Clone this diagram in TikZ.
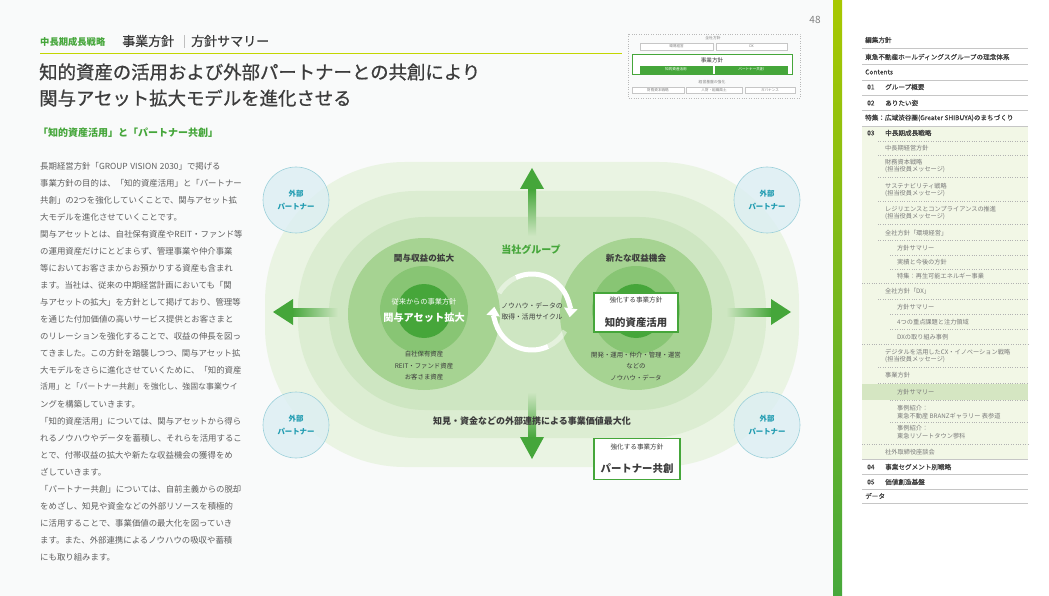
\documentclass[tikz,border=0pt]{standalone}
\usepackage{fontspec}
\setmainfont{Noto Sans CJK JP}
\newfontfamily\mediumfont{Noto Sans CJK JP}[FakeBold=0.8]
\newfontfamily\navfont{Noto Sans CJK JP}[FakeBold=0.25]
\usetikzlibrary{arrows.meta,positioning}

\XeTeXlinebreaklocale "ja"
\XeTeXlinebreakskip=0pt plus 1pt minus 1pt

\newcommand{\textsz}[2]{\fontsize{#1}{#2}\selectfont}

\definecolor{leaf}{HTML}{45A63A}
\definecolor{limeline}{HTML}{C3D600}
\definecolor{ink}{HTML}{3C3C3C}
\definecolor{bodygray}{HTML}{5E5E5E}
\definecolor{navgray}{HTML}{7A7A7A}
\definecolor{partnerteal}{HTML}{1F9BB0}
\definecolor{partnerfill}{HTML}{DCEEF3}
\definecolor{partnerline}{HTML}{9CD0DA}
\definecolor{bandA}{HTML}{EAF4E3}
\definecolor{bandB}{HTML}{DCEDD2}
\definecolor{bandC}{HTML}{CEE6C2}
\definecolor{ringA}{HTML}{A6D392}
\definecolor{ringB}{HTML}{88C574}
\definecolor{ringC}{HTML}{46A63A}
\definecolor{navbg}{HTML}{F2F7E6}
\definecolor{navhl}{HTML}{D5E6C2}
\definecolor{barTop}{HTML}{A8C800}
\definecolor{barBot}{HTML}{47A83C}
\definecolor{paper}{HTML}{F9FAFA}

\begin{document}
\begin{tikzpicture}[x=1pt, y=-1pt,
  bodyline/.style={anchor=west, inner sep=0, font=\textsz{8.4}{10}, text=bodygray},
  partner/.style={circle, minimum size=66pt, inner sep=0, fill=partnerfill, fill opacity=0.8, text opacity=1, draw=partnerline, line width=0.6pt, text=partnerteal, font=\bfseries\textsz{7.4}{12.5}, align=center},
  ringhead/.style={font=\bfseries\textsz{8.6}{10}, text=ink},
  ringnote/.style={font=\textsz{6.4}{11.5}, text=ink, align=center},
  policybox/.style={draw=leaf, line width=1.6pt, fill=white, minimum width=84pt, minimum height=39pt, inner sep=0},
  boxsmall/.style={font=\textsz{6.6}{8}, text=ink, inner sep=0},
  boxbig/.style={font=\bfseries\textsz{10.4}{12}, text=ink, inner sep=0},
  cyclearc/.style={white, line width=5pt},
  minibox/.style={draw=gray!45, fill=white, line width=0.3pt, font=\textsz{3.6}{4}, text=gray, inner sep=0},
  navtop/.style={anchor=west, inner sep=0, font=\navfont\textsz{6.6}{8}, text=ink},
  navsub/.style={anchor=west, inner sep=0, font=\textsz{6.2}{7.6}, text=navgray, align=left},
  navrule/.style={gray!45, line width=0.6pt},
  navdot/.style={gray!60, line width=0.4pt, dotted}]

  \useasboundingbox (0,0) rectangle (1049,596);
  \fill[white] (0,0) rectangle (1049,596);
  \fill[paper] (0,0) rectangle (833,596);

  % page header
  \node[anchor=west, inner sep=0, font=\bfseries\textsz{9.3}{11}, text=leaf] (section) at (40,42) {中長期成長戦略};
  \node[anchor=west, inner sep=0, font=\mediumfont\textsz{13}{15}, text=ink] (chapter) at (122,41) {事業方針};
  \draw[gray!50, line width=0.5pt] (184,35) -- (184,48);
  \node[anchor=west, inner sep=0, font=\mediumfont\textsz{13}{15}, text=ink] (page) at (191,41) {方針サマリー};
  \draw[limeline, line width=0.9pt] (40,53) -- (622,53);
  \node[font=\textsz{10}{12}, text=gray] (pageNo) at (815,20) {48};

  % title and lead
  \node[anchor=west, inner sep=0, font=\mediumfont\textsz{18.4}{22}, text=ink] (title1) at (39,72) {知的資産の活用および外部パートナーとの共創により};
  \node[anchor=west, inner sep=0, font=\mediumfont\textsz{18.4}{22}, text=ink] (title2) at (39,98) {関与アセット拡大モデルを進化させる};
  \node[anchor=west, inner sep=0, font=\bfseries\textsz{10}{12}, text=leaf] (lead) at (38,133) {「知的資産活用」と「パートナー共創」};

  % body text, justified lines
  \foreach \i/\t in {1/長期経営方針「GROUP\hspace{2.6pt}VISION\hspace{2.6pt}2030」で掲げる,
                     2/事業方針の目的は、「知的資産活用」と「パートナー,
                     3/共創」の2つを強化していくことで、関与アセット拡,
                     5/関与アセットとは、自社保有資産やREIT・ファンド等,
                     6/の運用資産だけにとどまらず、管理事業や仲介事業,
                     7/等においてお客さまからお預かりする資産も含まれ,
                     8/ます。当社は、従来の中期経営計画においても「関,
                     9/与アセットの拡大」を方針として掲げており、管理等,
                     10/を通じた付加価値の高いサービス提供とお客さまと,
                     11/のリレーションを強化することで、収益の伸長を図っ,
                     12/てきました。この方針を踏襲しつつ、関与アセット拡,
                     13/大モデルをさらに進化させていくために、「知的資産,
                     14/\textsz{7.9}{10}活用」と「パートナー共創」を強化し、強固な事業ウイ,
                     16/「知的資産活用」については、関与アセットから得ら,
                     17/れるノウハウやデータを蓄積し、それらを活用するこ,
                     18/とで、付帯収益の拡大や新たな収益機会の獲得をめ,
                     20/「パートナー共創」については、自前主義からの脱却,
                     21/をめざし、知見や資金などの外部リソースを積極的,
                     22/に活用することで、事業価値の最大化を図っていき,
                     23/ます。また、外部連携によるノウハウの吸収や蓄積}
    \node[bodyline] (body\i) at (40,{166+17*(\i-1)}) {\makebox[198pt][s]{\t}};
  % last lines of the paragraphs
  \foreach \i/\t in {4/大モデルを進化させていくことです。,
                     15/ングを構築していきます。,
                     19/ざしていきます。,
                     24/にも取り組みます。}
    \node[bodyline] (body\i) at (40,{166+17*(\i-1)}) {\t};

  % small map of the policies
  \draw[gray!55, line width=0.4pt, dotted] (628,34) rectangle (800,98);
  \node[font=\textsz{3.8}{4}, text=gray] (mAll) at (713,38) {全社方針};
  \node[minibox, minimum width=73pt, minimum height=7pt] (mEnv) at (676.5,46.5) {環境経営};
  \node[minibox, minimum width=71pt, minimum height=7pt] (mDX) at (751.5,46.5) {DX};
  \node[draw=leaf, line width=1pt, fill=white, minimum width=160pt, minimum height=20pt, inner sep=0] (mBiz) at (712,65) {};
  \node[font=\textsz{5.6}{6}, text=ink] (mBizLabel) at (712,60) {事業方針};
  \node[minibox, fill=leaf, draw=leaf, text=white, minimum width=72pt, minimum height=7pt] (mIP) at (676,69.5) {知的資産活用};
  \node[minibox, fill=leaf, draw=leaf, text=white, minimum width=72pt, minimum height=7pt] (mPC) at (751,69.5) {パートナー共創};
  \node[font=\textsz{3.8}{4}, text=gray] (mBase) at (712,82) {経営基盤の強化};
  \node[minibox, minimum width=52pt, minimum height=6pt] (mFin) at (658,90) {財務資本戦略};
  \node[minibox, minimum width=56pt, minimum height=6pt] (mHR) at (714,90) {人財・組織風土};
  \node[minibox, minimum width=50pt, minimum height=6pt] (mGov) at (770,90) {ガバナンス};

  % bands of the group
  \fill[bandA, rounded corners=140pt] (265,162) rectangle (799,467);
  \fill[bandB, rounded corners=118pt] (298,191) rectangle (766,438);
  \fill[bandC, rounded corners=96pt] (329,217) rectangle (735,410);

  % the two circles
  \foreach \cx/\nm in {424/Old, 636/New} {
    \node[circle, fill=ringA, minimum size=152pt, inner sep=0] (outer\nm) at (\cx,314) {};
    \node[circle, fill=ringB, minimum size=88pt, inner sep=0] (mid\nm) at (\cx,310) {};
    \node[circle, fill=ringC, minimum size=54pt, inner sep=0] (core\nm) at (\cx,311) {};
  }

  % arrows out of the group
  \shade[top color=leaf, bottom color=bandC] (528,236) rectangle (536,189);
  \fill[leaf] (520,189) -- (532,168) -- (544,189) -- cycle;
  \shade[top color=bandC, bottom color=leaf] (528,392) rectangle (536,438);
  \fill[leaf] (520,437) -- (532,459) -- (544,437) -- cycle;
  \shade[left color=leaf, right color=bandC] (292,308) rectangle (338,316);
  \fill[leaf] (293,299) -- (273,312) -- (293,325) -- cycle;
  \shade[left color=bandC, right color=leaf] (726,308) rectangle (772,316);
  \fill[leaf] (771,299) -- (791,312) -- (771,325) -- cycle;

  % knowhow cycle
  \node[circle, minimum size=76pt, inner sep=0, outer sep=0] (cycRing) at (532,312) {};
  \draw[cyclearc, opacity=0.45] (cycRing.150) arc[start angle=150, end angle=115, radius=38pt];
  \draw[cyclearc, -{Triangle[width=13pt,length=9pt]}] (cycRing.115) arc[start angle=115, end angle=-8, radius=38pt];
  \draw[cyclearc, opacity=0.45] (cycRing.-30) arc[start angle=-30, end angle=-65, radius=38pt];
  \draw[cyclearc, -{Triangle[width=13pt,length=9pt]}] (cycRing.-65) arc[start angle=-65, end angle=-188, radius=38pt];
  \node[font=\textsz{6.8}{11}, text=ink, align=center] (cycText) at (532,311) {ノウハウ・データの\\取得・活用サイクル};

  % labels in the group
  \node[font=\bfseries\textsz{10}{12}, text=leaf] (group) at (531,250) {当社グループ};
  \node[ringhead] (oldHead) at (424,258) {関与収益の拡大};
  \node[ringhead] (newHead) at (636,258) {新たな収益機会};
  \node[font=\textsz{7.2}{9}, text=white] (oldSub) at (424,302) {従来からの事業方針};
  \node[font=\bfseries\textsz{10.2}{12}, text=white] (oldPolicy) at (424,318) {関与アセット拡大};
  \node[ringnote] (oldAssets) at (424,366) {自社保有資産\\REIT・ファンド資産\\お客さま資産};
  \node[policybox] (ipBox) at (636,312.5) {};
  \node[boxsmall, below=5pt of ipBox.north] (ipSub) {強化する事業方針};
  \node[boxbig, above=5pt of ipBox.south] (ipName) {知的資産活用};
  \node[ringnote] (newData) at (636,366) {開発・運用・仲介・管理・運営\\などの\\ノウハウ・データ};
  \node[font=\bfseries\textsz{9}{11}, text=ink] (valueText) at (532,421) {知見・資金などの外部連携による事業価値最大化};
  \node[policybox, minimum width=86pt, minimum height=41pt] (pcBox) at (637,459) {};
  \node[boxsmall, below=6pt of pcBox.north] (pcSub) {強化する事業方針};
  \node[boxbig, above=7pt of pcBox.south] (pcName) {パートナー共創};

  % external partners
  \node[partner] (partnerTL) at (296,200) {外部\\パートナー};
  \node[partner] (partnerTR) at (767,200) {外部\\パートナー};
  \node[partner] (partnerBL) at (296,425) {外部\\パートナー};
  \node[partner] (partnerBR) at (767,425) {外部\\パートナー};

  % side bar
  \shade[top color=barTop, bottom color=barBot] (833,0) rectangle (842,596);
  \fill[navbg] (862,127) rectangle (1028,459);
  \fill[navhl] (862,384) rectangle (1028,400);
  \foreach \y in {48,64,80,95,110,126,459,474,489,503}
    \draw[navrule] (862,\y) -- (1028,\y);
  \foreach \y in {141,155,177,201,224,240,299,367,383}
    \draw[navdot] (878,\y) -- (1028,\y);
  \foreach \y in {255,269,314,329,400,422}
    \draw[navdot] (890,\y) -- (1028,\y);
  \foreach \y in {283,344,444}
    \draw[navdot] (862,\y) -- (1028,\y);

  \foreach \y/\t [count=\k] in {40/編集方針,
                                57/東急不動産ホールディングスグループの理念体系,
                                72/Contents,
                                118/特集：広域渋谷圏(Greater SHIBUYA)のまちづくり,
                                496/データ}
    \node[navtop] (top\k) at (865,\y) {\t};
  \foreach \y/\n/\t in {87/01/グループ概要, 103/02/ありたい姿, 133/03/中長期成長戦略,
                        467/04/事業セグメント別戦略, 482/05/価値創造基盤} {
    \node[navtop] (num\n) at (867,\y) {\n};
    \node[navtop] (sec\n) at (885,\y) {\t};
  }
  \foreach \y/\t [count=\k] in {148/中長期経営方針,
                                166/財務資本戦略\\(担当役員メッセージ),
                                190/サステナビリティ戦略\\(担当役員メッセージ),
                                213/レジリエンスとコンプライアンスの推進\\(担当役員メッセージ),
                                233/全社方針「環境経営」,
                                291/全社方針「DX」,
                                356/デジタルを活用したCX・イノベーション戦略\\(担当役員メッセージ),
                                375/事業方針,
                                452/社外取締役座談会}
    \node[navsub] (sub\k) at (885,\y) {\t};
  \foreach \y/\t [count=\k] in {248/方針サマリー,
                                262/実績と今後の方針,
                                276/特集：再生可能エネルギー事業,
                                307/方針サマリー,
                                322/4つの重点課題と注力領域,
                                337/DXの取り組み事例,
                                392/方針サマリー,
                                412/事例紹介：\\東急不動産 BRANZギャラリー 表参道,
                                432/事例紹介：\\東急リゾートタウン蓼科}
    \node[navsub] (leaf\k) at (897,\y) {\t};
\end{tikzpicture}
\end{document}
